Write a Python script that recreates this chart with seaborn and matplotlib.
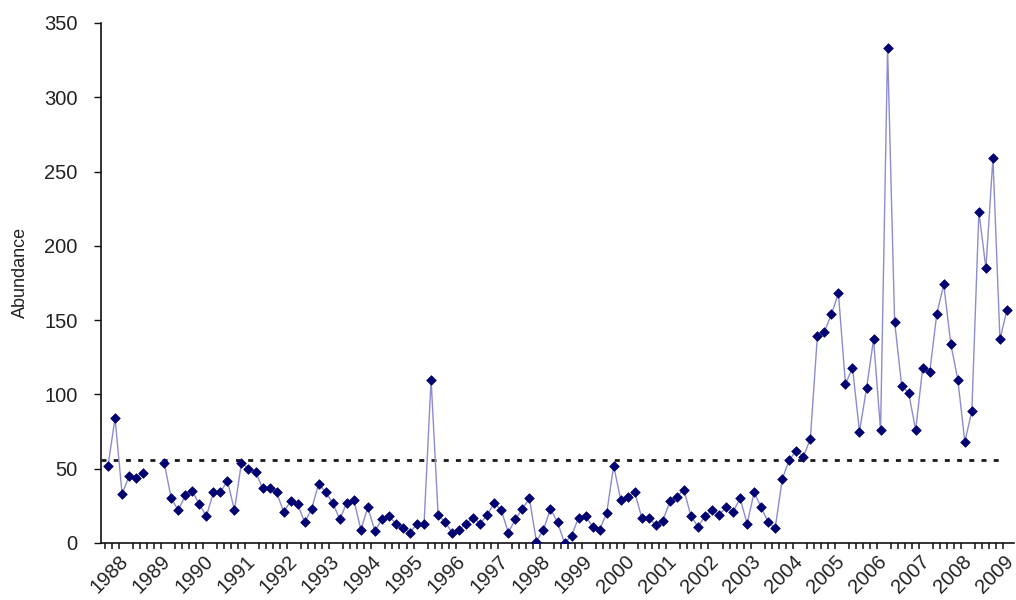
import numpy as np
import pandas as pd
import matplotlib
matplotlib.use("Agg")
import matplotlib.pyplot as plt
import seaborn as sns

# ---- data (bimonthly samples) ----
year_labels = [str(y) for y in range(1988, 2010)]
abundance = [
    52, 84, 33, 45, 44, 47, np.nan, np.nan,
    54, 30, 22, 32, 35, 26, 18, 34, 34,
    42, 22, 54, 50, 48, 37, 37, 34, 21, 28, 26, 14, 23, 40, 34, 27, 16,
    27, 29, 9, 24, 8, 16, 18, 13, 10, 7, 13, 13, 110, 19, 14, 7, 9,
    13, 17, 13, 19, 27, 22, 7, 16, 23, 30, 1, 9, 23, 14, 0, 5, 17,
    18, 11, 9, 20, 52, 29, 31, 34, 17, 17, 12, 15, 28, 31, 36, 18, 11,
    18, 22, 19, 24, 21, 30, 13, 34, 24, 14, 10, 43, 56, 62, 58, 70,
    139, 142, 154, 168, 107, 118, 75, 104, 137, 76, 333, 149, 106, 101,
    76, 118, 115, 154, 174, 134, 110, 68, 89, 223, 185, 259, 137, 157,
]
threshold = 56
per_year = 6

# ---- frame ----
slot = np.arange(len(abundance))
vals = np.array(abundance, dtype=float)
seg = np.cumsum(np.isnan(vals))
df = pd.DataFrame({"slot": slot, "abundance": vals, "segment": seg}).dropna()

sns.set_theme(style="white")
plt.rcParams["font.family"] = ["Liberation Sans", "DejaVu Sans"]

fig = plt.figure(figsize=(10.16, 6.0), dpi=100)
ax = fig.add_axes([101 / 1016, 57 / 600, 913 / 1016, 520 / 600])

line_color = "#8c8cd0"
marker_color = "#000070"

sns.lineplot(data=df, x="slot", y="abundance", units="segment", estimator=None,
             color=line_color, lw=1.0, ax=ax, legend=False, zorder=2)
sns.scatterplot(data=df, x="slot", y="abundance", marker="D", s=24,
                color=marker_color, edgecolor=marker_color, linewidth=0.5,
                ax=ax, legend=False, zorder=3)

ax.axhline(threshold, xmin=0, xmax=0.985, color="#1a1a1a", lw=2.0,
           ls=(0, (1.8, 2.6)), zorder=1)

ax.set_xlim(-1, len(abundance))
ax.set_ylim(0, 350)
ax.set_yticks(np.arange(0, 351, 50))

label_pos = np.arange(len(year_labels)) * per_year + 2.5
ax.set_xticks(label_pos)
ax.set_xticklabels(year_labels, rotation=45, ha="right", va="center",
                   rotation_mode="anchor", fontsize=14.5, color="#222222")
ax.set_xticks(np.arange(-0.5, len(abundance), 1), minor=True)
ax.tick_params(axis="x", which="major", length=0, pad=11)
ax.tick_params(axis="x", which="minor", length=4, width=1.1, color="#111111",
               direction="out", bottom=True)
ax.tick_params(axis="y", which="major", length=5, width=1, color="#111111",
               direction="out", left=True, labelsize=14.5, labelcolor="#222222", pad=12)

for s in ["top", "right"]:
    ax.spines[s].set_visible(False)
for s in ["left", "bottom"]:
    ax.spines[s].set_color("#111111")
    ax.spines[s].set_linewidth(1.2)

ax.set_xlabel("")
ax.set_ylabel("Abundance", fontsize=13, color="#222222")
ax.yaxis.set_label_coords(-0.079, 0.52)

fig.savefig("out.png", dpi=100)
